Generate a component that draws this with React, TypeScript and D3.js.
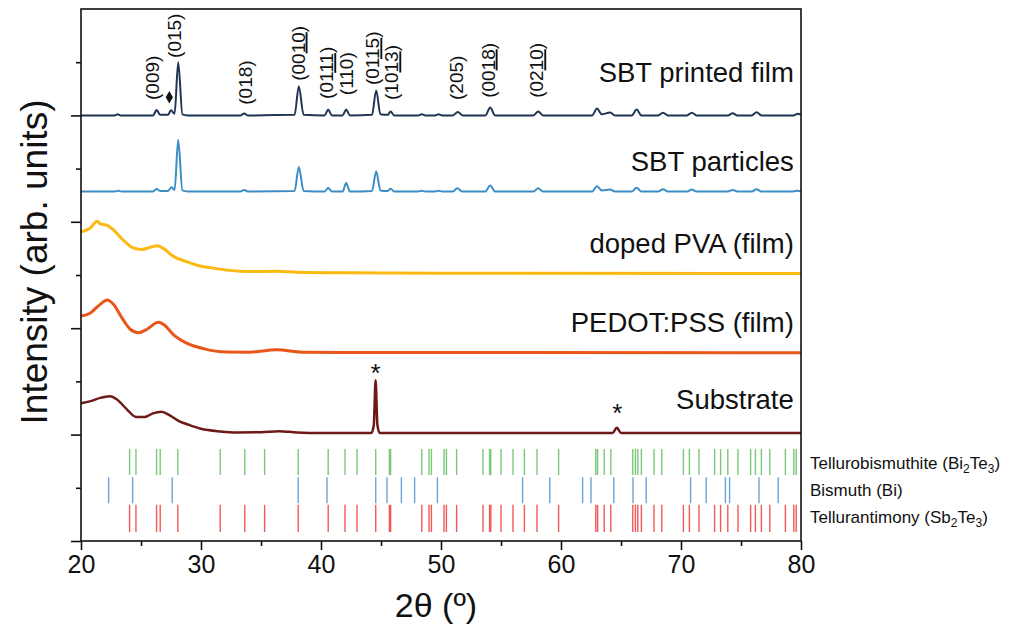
import React, { useEffect, useRef } from "react";
import * as d3 from "d3";

// 2θ / intensity pairs (intensity above each trace's offset)
const printedFilm: [number, number][] = [
  [20, 0], [22.8, 0], [23.05, 0.02], [23.3, 0], [26.0, 0], [26.3, 0.1], [26.6, 0.01],
  [27.25, 0.01], [27.5, 0.095], [27.8, 0.03], [28.1, 1.0], [28.45, 0.02], [28.9, 0],
  [33.3, 0], [33.6, 0.035], [33.9, 0], [37.8, 0.01], [38.15, 0.55], [38.55, 0.01],
  [40.3, 0], [40.6, 0.11], [40.9, 0], [41.8, 0], [42.1, 0.11], [42.4, 0],
  [44.25, 0.01], [44.6, 0.47], [44.95, 0.02], [45.55, 0.01], [45.8, 0.075], [46.1, 0],
  [48.1, 0], [48.4, 0.02], [48.7, 0], [49.5, 0], [49.8, 0.02], [50.1, 0],
  [51.0, 0], [51.4, 0.065], [51.8, 0], [53.7, 0], [54.1, 0.15], [54.5, 0],
  [57.7, 0], [58.1, 0.075], [58.5, 0], [62.6, 0], [63.0, 0.13], [63.4, 0.02],
  [64.1, 0.055], [64.5, 0], [65.9, 0], [66.3, 0.11], [66.7, 0], [68.1, 0],
  [68.5, 0.05], [68.9, 0], [70.5, 0], [70.9, 0.05], [71.3, 0], [73.9, 0],
  [74.3, 0.04], [74.7, 0], [75.9, 0], [76.3, 0.06], [76.7, 0], [79.35, 0],
  [79.75, 0.03], [80, 0.01],
];

const particles: [number, number][] = [
  [20, 0], [22.8, 0], [23.1, 0.015], [23.4, 0], [26.0, 0], [26.3, 0.045], [26.6, 0.01],
  [27.25, 0.01], [27.55, 0.08], [27.8, 0.03], [28.1, 0.97], [28.45, 0.02], [28.9, 0],
  [33.3, 0], [33.6, 0.03], [33.9, 0], [37.8, 0.01], [38.15, 0.46], [38.55, 0.01],
  [40.3, 0], [40.6, 0.065], [40.9, 0], [41.8, 0], [42.1, 0.16], [42.4, 0],
  [44.25, 0.01], [44.6, 0.38], [44.95, 0.02], [45.55, 0.01], [45.8, 0.05], [46.1, 0],
  [48.1, 0], [48.4, 0.015], [48.7, 0], [49.5, 0], [49.8, 0.015], [50.1, 0],
  [51.0, 0], [51.35, 0.06], [51.8, 0], [53.7, 0], [54.1, 0.11], [54.5, 0],
  [57.7, 0], [58.1, 0.06], [58.5, 0], [62.6, 0], [63.0, 0.1], [63.4, 0.02],
  [64.1, 0.035], [64.5, 0], [65.9, 0], [66.3, 0.07], [66.7, 0], [68.1, 0],
  [68.5, 0.04], [68.9, 0], [70.5, 0], [70.9, 0.035], [71.3, 0], [73.9, 0],
  [74.3, 0.03], [74.7, 0], [75.9, 0], [76.3, 0.04], [76.7, 0], [79.35, 0],
  [79.7, 0.015], [80, 0.005],
];

const dopedPva: [number, number][] = [
  [20, 0.78], [20.75, 0.85], [21.36, 0.98], [21.6, 0.93], [22.1, 0.91], [22.7, 0.82],
  [23.5, 0.63], [24.35, 0.48], [25.05, 0.45], [25.9, 0.5], [26.36, 0.52], [26.86, 0.47],
  [27.7, 0.32], [28.8, 0.22], [29.9, 0.14], [31.0, 0.1], [32.4, 0.057], [34, 0.035],
  [36.3, 0.04], [38, 0.02], [42, 0.01], [50, 0.005], [80, 0],
];

const pedotPss: [number, number][] = [
  [20, 0.69], [20.75, 0.74], [21.45, 0.88], [22.2, 0.99], [22.7, 0.91], [23.4, 0.66],
  [24.1, 0.44], [24.8, 0.375], [25.5, 0.44], [26.45, 0.57], [27.0, 0.51], [27.7, 0.34],
  [28.8, 0.18], [30.2, 0.076], [32.1, 0.013], [34, 0.01], [36.3, 0.055], [38.5, 0.01],
  [42, 0.005], [80, 0],
];

const substrate: [number, number][] = [
  [20, 0.56], [20.8, 0.6], [21.6, 0.66], [22.4, 0.69], [23.0, 0.63], [23.8, 0.45],
  [24.6, 0.3], [25.3, 0.3], [26.0, 0.37], [26.7, 0.4], [27.4, 0.33], [28.2, 0.22],
  [28.9, 0.16], [30, 0.08], [31.6, 0.03], [33, 0.01], [35, 0.015], [36.5, 0.035],
  [38, 0.01], [40, 0], [44.2, 0], [44.4, 0.15], [44.55, 0.99], [44.7, 0.15], [44.9, 0],
  [64.3, 0], [64.65, 0.1], [65.0, 0], [80, 0],
];

const seriesNames = ["SBT printed film", "SBT particles", "doped PVA (film)", "PEDOT:PSS (film)", "Substrate"];
const seriesOffsets = [8.0, 6.57, 5.03, 3.54, 2.03];
const seriesLabelY = [8.63, 6.95, 5.41, 3.93, 2.49];
const seriesColors = ["#1f3553", "#3b8dc4", "#fdb913", "#e8561a", "#6e1818"];
const seriesWidths = [2, 2, 3, 3, 2.5];

// reference patterns (stick positions, 2θ)
const tellurobismuthite = [24.05, 24.58, 26.3, 26.6, 28.07, 31.6, 33.65, 35.3, 38.1, 40.6, 42.0, 43.0,
  44.56, 45.7, 45.8, 48.4, 49.0, 49.2, 50.25, 50.45, 51.3, 53.5, 54.05, 54.15, 55.0, 56.0, 56.95,
  58.0, 59.8, 62.9, 63.05, 63.6, 64.15, 65.98, 66.2, 66.4, 66.7, 67.75, 68.4, 70.2, 70.7, 71.5,
  72.8, 73.3, 73.9, 74.75, 75.8, 76.2, 76.7, 77.4, 78.7, 79.4, 79.6];
const bismuth = [22.3, 24.3, 27.6, 38.1, 40.5, 44.56, 45.5, 46.7, 47.8, 49.7, 56.8, 59.06, 61.8,
  62.5, 64.4, 66.0, 67.1, 70.8, 72.1, 73.7, 74.05, 76.5, 78.1];
const tellurantimony = [24.05, 24.58, 26.3, 26.6, 28.07, 31.6, 33.65, 35.3, 38.1, 40.6, 42.0, 43.0,
  44.56, 45.7, 45.8, 48.4, 49.0, 49.2, 50.25, 50.45, 51.3, 53.5, 54.05, 54.15, 55.0, 56.0, 56.95,
  58.0, 59.8, 62.9, 63.05, 63.6, 64.15, 65.98, 66.2, 66.4, 66.7, 67.75, 68.4, 70.2, 70.7, 71.5,
  72.8, 73.3, 73.9, 74.75, 75.8, 76.2, 76.7, 77.4, 78.7, 79.4, 79.6];
const stickRows: [number, number][] = [[1.24, 1.73], [0.71, 1.2], [0.17, 0.68]];
const stickColors = ["#6cc16c", "#5b9bd5", "#ef4646"];
const refNames = [["Tellurobismuthite (Bi", "2", "Te", "3", ")"], ["Bismuth (Bi)"], ["Tellurantimony (Sb", "2", "Te", "3", ")"]];

// Miller index labels: [2θ, bottom of label, plain part, underlined part, closing]
const hklLabels: [number, number, string, string, string][] = [
  [25.98, 8.29, "(009)", "", ""],
  [27.78, 9.08, "(015)", "", ""],
  [33.72, 8.2, "(018)", "", ""],
  [38.08, 8.65, "(00", "10", ")"],
  [40.47, 8.31, "(01", "11", ")"],
  [42.14, 8.38, "(110)", "", ""],
  [44.31, 8.57, "(01", "15", ")"],
  [45.89, 8.29, "(10", "13", ")"],
  [51.31, 8.29, "(205)", "", ""],
  [53.92, 8.33, "(00", "18", ")"],
  [57.97, 8.33, "(02", "10", ")"],
];
const diamond: [number, number] = [27.36, 8.34];
const asterisks: [number, number][] = [[44.55, 3.25], [64.7, 2.5]];

const xTicks = [20, 30, 40, 50, 60, 70, 80];
const xMinor = [25, 35, 45, 55, 65, 75];
const yMajor = [0, 2, 4, 6, 8];
const yMinor = [1, 3, 5, 7, 9];

const FONT = "'Liberation Sans', Arial, sans-serif";

export default function App() {
  const ref = useRef<SVGSVGElement>(null);

  useEffect(() => {
    const svg = d3.select(ref.current);
    svg.selectAll("*").remove();

    const left = 81, right = 801, top = 9, bottom = 541;
    const x = d3.scaleLinear().domain([20, 80]).range([left, right]);
    const y = d3.scaleLinear().domain([0, 10]).range([bottom, top]);

    // reference sticks
    [tellurobismuthite, bismuth, tellurantimony].forEach((list, i) => {
      svg.append("g").selectAll("line").data(list).enter().append("line")
        .attr("x1", (d) => x(d)).attr("x2", (d) => x(d))
        .attr("y1", y(stickRows[i][0])).attr("y2", y(stickRows[i][1]))
        .attr("stroke", stickColors[i]).attr("stroke-width", 1.4).attr("stroke-opacity", 0.9);
    });

    // traces
    const all = [printedFilm, particles, dopedPva, pedotPss, substrate];
    all.forEach((data, i) => {
      const line = d3.line<[number, number]>()
        .x((d) => x(d[0]))
        .y((d) => y(d[1] + seriesOffsets[i]))
        .curve(d3.curveMonotoneX);
      svg.append("path").datum(data).attr("d", line).attr("fill", "none")
        .attr("stroke", seriesColors[i]).attr("stroke-width", seriesWidths[i])
        .attr("stroke-linejoin", "round");
      svg.append("text").attr("x", x(79.4)).attr("y", y(seriesLabelY[i]))
        .attr("text-anchor", "end").attr("font-family", FONT).attr("font-size", 27.5)
        .attr("fill", "#111").text(seriesNames[i]);
    });

    // hkl labels
    hklLabels.forEach(([t, b, a, u, c]) => {
      const tx = svg.append("text")
        .attr("transform", `translate(${x(t)},${y(b)}) rotate(-90)`)
        .attr("dy", "0.35em").attr("font-family", FONT).attr("font-size", 19).attr("fill", "#111");
      tx.append("tspan").text(a);
      if (u) tx.append("tspan").style("text-decoration", "underline").text(u);
      if (c) tx.append("tspan").text(c);
    });

    svg.append("path")
      .attr("d", d3.symbol(d3.symbolDiamond, 45)())
      .attr("transform", `translate(${x(diamond[0])},${y(diamond[1])})`)
      .attr("fill", "#111");

    asterisks.forEach(([t, v]) => {
      svg.append("text").attr("x", x(t)).attr("y", y(v) + 14).attr("text-anchor", "middle")
        .attr("font-family", FONT).attr("font-size", 26).attr("fill", "#111").text("*");
    });

    // frame
    svg.append("rect").attr("x", left).attr("y", top).attr("width", right - left)
      .attr("height", bottom - top).attr("fill", "none").attr("stroke", "#111").attr("stroke-width", 1.6);

    // axes
    const gx = svg.append("g").attr("transform", `translate(0,${bottom})`)
      .call(d3.axisBottom(x).tickValues(xTicks).tickSize(9).tickPadding(5));
    svg.append("g").attr("transform", `translate(0,${bottom})`)
      .call(d3.axisBottom(x).tickValues(xMinor).tickSize(5).tickFormat(() => ""));
    svg.append("g").attr("transform", `translate(${left},0)`)
      .call(d3.axisLeft(y).tickValues(yMajor).tickSize(10).tickFormat(() => ""));
    svg.append("g").attr("transform", `translate(${left},0)`)
      .call(d3.axisLeft(y).tickValues(yMinor).tickSize(5).tickFormat(() => ""));
    svg.selectAll(".domain").remove();
    svg.selectAll(".tick line").attr("stroke", "#111").attr("stroke-width", 1.6);
    gx.selectAll("text").attr("font-family", FONT).attr("font-size", 25).attr("fill", "#111");

    // reference legend
    refNames.forEach((parts, i) => {
      const ly = [469, 496, 523][i];
      const tx = svg.append("text").attr("x", 810).attr("y", ly)
        .attr("font-family", FONT).attr("font-size", 17).attr("fill", "#111");
      parts.forEach((p, j) => {
        const sub = j % 2 === 1;
        const ts = tx.append("tspan").text(p);
        if (sub) ts.attr("font-size", 12).attr("dy", 4);
        else if (j > 0) ts.attr("dy", -4);
      });
    });

    // axis titles
    svg.append("text").attr("x", 436).attr("y", 617).attr("text-anchor", "middle")
      .attr("font-family", FONT).attr("font-size", 34).attr("fill", "#111").text("2θ (º)");
    svg.append("text").attr("transform", "translate(47,262) rotate(-90)").attr("text-anchor", "middle")
      .attr("font-family", FONT).attr("font-size", 37).attr("fill", "#111").text("Intensity (arb. units)");
  }, []);

  return (
    <svg ref={ref} width={1009} height={637}
      style={{ position: "absolute", left: 0, top: 0, background: "#fff" }} />
  );
}
